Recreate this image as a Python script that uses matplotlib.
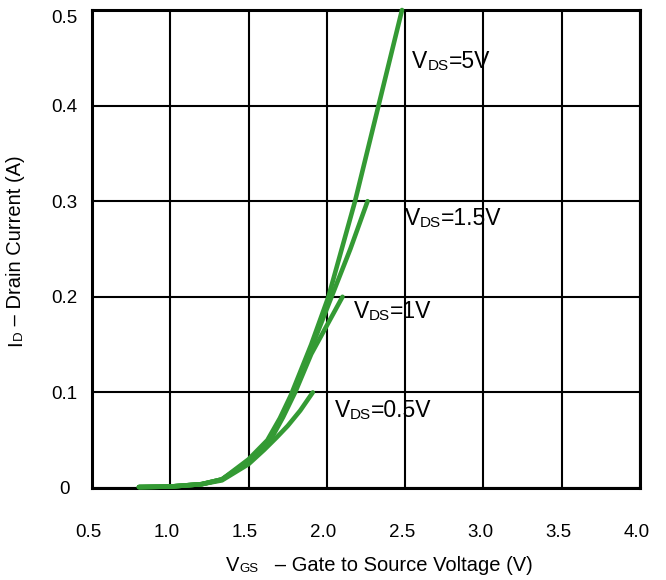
import matplotlib
matplotlib.use("Agg")
import matplotlib.pyplot as plt
import matplotlib.transforms as mtransforms

plt.rcParams['font.family'] = ['Liberation Sans', 'DejaVu Sans']

# ---- data ----
vgs_5v = [0.80, 1.00, 1.20, 1.33, 1.50, 1.62, 1.70, 1.77, 1.90, 2.01, 2.18, 2.33, 2.48]
id_5v = [0.001, 0.0015, 0.004, 0.009, 0.030, 0.050, 0.073, 0.097, 0.150, 0.200, 0.300, 0.400, 0.500]

vgs_1p5v = [0.80, 1.00, 1.20, 1.33, 1.50, 1.63, 1.71, 1.79, 1.91, 2.03, 2.15, 2.26]
id_1p5v = [0.001, 0.0015, 0.004, 0.009, 0.028, 0.050, 0.073, 0.100, 0.150, 0.200, 0.250, 0.300]

vgs_1v = [0.80, 1.00, 1.20, 1.33, 1.50, 1.64, 1.72, 1.80, 1.90, 2.00, 2.10]
id_1v = [0.001, 0.0015, 0.004, 0.009, 0.027, 0.050, 0.074, 0.101, 0.140, 0.170, 0.200]

vgs_0p5v = [0.80, 1.00, 1.20, 1.33, 1.50, 1.60, 1.68, 1.75, 1.83, 1.91]
id_0p5v = [0.001, 0.0015, 0.004, 0.008, 0.025, 0.040, 0.053, 0.065, 0.081, 0.100]

x_ticks = [0.5, 1.0, 1.5, 2.0, 2.5, 3.0, 3.5, 4.0]
x_tick_labels = ["0.5", "1.0", "1.5", "2.0", "2.5", "3.0", "3.5", "4.0"]
y_ticks = [0.0, 0.1, 0.2, 0.3, 0.4, 0.5]
y_tick_labels = ["0", "0.1", "0.2", "0.3", "0.4", "0.5"]

curve_labels = [("=5V", 2.544, 0.439), ("=1.5V", 2.499, 0.275),
                ("=1V", 2.173, 0.178), ("=0.5V", 2.052, 0.0743)]

GREEN = "#349a34"

W, H = 666, 580
fig = plt.figure(figsize=(W / 100, H / 100), dpi=100)
ax = fig.add_axes([92 / W, (H - 488) / H, 548 / W, 478 / H])

ax.set_xlim(0.5, 4.0)
ax.set_ylim(0.0, 0.5)

ax.set_xticks(x_ticks)
ax.set_xticklabels(x_tick_labels, fontsize=13.5)
ax.set_yticks(y_ticks)
ax.set_yticklabels(y_tick_labels, fontsize=13.5)
ax.tick_params(axis='both', length=0)
ax.tick_params(axis='x', pad=26)
ax.tick_params(axis='y', pad=20)
for lab in ax.get_yticklabels():
    lab.set_ha('center')
ax.get_yticklabels()[-1].set_va('top')
off = mtransforms.ScaledTranslation(-3.5 / 100, 0, fig.dpi_scale_trans)
for lab in ax.get_xticklabels():
    lab.set_transform(lab.get_transform() + off)

ax.grid(True, color='black', linewidth=1.5)
ax.set_axisbelow(True)
for sp in ax.spines.values():
    sp.set_linewidth(2.2)
    sp.set_color('black')

for xs, ys in [(vgs_0p5v, id_0p5v), (vgs_1v, id_1v), (vgs_1p5v, id_1p5v), (vgs_5v, id_5v)]:
    ax.plot(xs, ys, color=GREEN, linewidth=3.3, solid_capstyle='round',
            solid_joinstyle='round', zorder=5, clip_on=False)


def chain_text(x, y, pieces, transform):
    first = ax.text(x, y, pieces[0][0], fontsize=pieces[0][1], transform=transform,
                    ha='left', va='baseline', color='black')
    prev = first
    for s, fs in pieces[1:]:
        prev = ax.annotate(s, xy=(1, 0), xycoords=(prev, first), fontsize=fs,
                           ha='left', va='bottom', color='black',
                           annotation_clip=False)
    return first


for txt, lx, ly in curve_labels:
    chain_text(lx, ly, [("V", 16.5), ("DS", 11), (txt, 16.5)], ax.transData)

# x axis label
chain_text(226 / W, (H - 571) / H, [("V", 14.5), ("GS", 9.5), ("   \u2013 Gate to Source Voltage (V)", 14.5)],
           fig.transFigure)

# y axis label (rotated)
first = fig.text(25 / W, (H - 346) / H, "I", fontsize=14.5, rotation=90,
                 ha='right', va='bottom')
prev = first
for s, fs in [("D", 9.5), (" \u2013 Drain Current (A)", 14.5)]:
    prev = ax.annotate(s, xy=(1, 1), xycoords=(first, prev), fontsize=fs, rotation=90,
                       ha='right', va='bottom', annotation_clip=False)

fig.savefig("out.png", dpi=100)
